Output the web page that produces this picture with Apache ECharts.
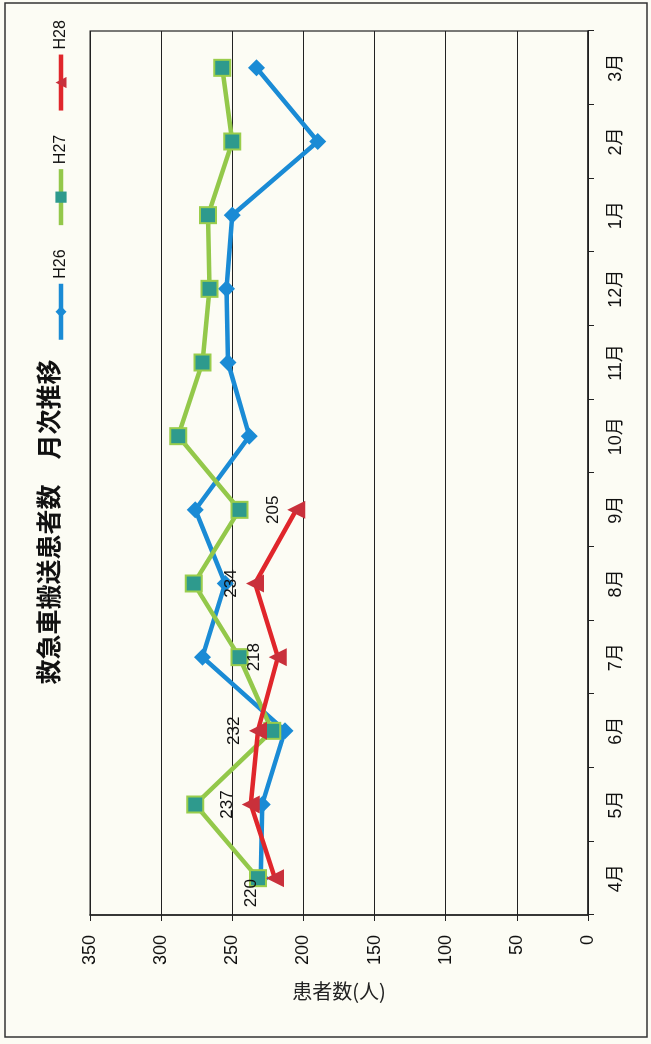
<!DOCTYPE html>
<html><head><meta charset="utf-8">
<script src="https://cdn.jsdelivr.net/npm/echarts@6/dist/echarts.min.js"></script>
<style>
html,body{margin:0;padding:0;width:651px;height:1044px;overflow:hidden;background:#fcfcf4;}
#chart{position:absolute;left:0;top:0;width:1044px;height:651px;transform-origin:0 0;transform:translateY(1044px) rotate(-90deg);}
</style></head><body><div id="chart"></div>
<script>
const months = ['4月','5月','6月','7月','8月','9月','10月','11月','12月','1月','2月','3月'];
const seriesNames = ['H26','H27','H28'];
const h26 = [230, 229, 213, 271, 255, 276, 238, 253, 254, 250, 190, 233];
const h27 = [232, 276, 222, 245, 277, 245, 288, 271, 266, 267, 250, 257];
const h28 = [220, 237, 232, 218, 234, 205];
const valueMin = 0, valueMax = 350, valueStep = 50;
const titleText = '救急車搬送患者数　月次推移';
const axisName = '患者数(人)';

const chart = echarts.init(document.getElementById('chart'), null, {renderer:'canvas'});
const lat = 'Liberation Sans, Noto Sans CJK JP, sans-serif';
chart.setOption({
  backgroundColor: '#fcfcf4',
  animation: false,
  graphic: [{type:'rect', silent:true, z:-1, shape:{x:7,y:5,width:1034,height:642}, style:{fill:'none', stroke:'#333', lineWidth:1.5}}],
  title: {text: titleText, left:'center', top:31, textStyle:{fontSize:25, fontWeight:'bold', fontFamily:'Noto Sans CJK JP', color:'#111'}},
  legend: {data: seriesNames, left:702, top:53, width:338, padding:0, itemWidth:56, itemHeight:14, itemGap:22,
    lineStyle:{width:4.5}, itemStyle:{borderWidth:0},
    textStyle:{fontSize:16, fontFamily:lat, color:'#111'}},
  grid: {left:129, right:31, top:90, bottom:63, show:true, borderColor:'#222', borderWidth:1.2},
  xAxis: {type:'category', data: months, boundaryGap:true,
    axisLine:{lineStyle:{color:'#222', width:1.5}},
    axisTick:{show:true, inside:false, length:6, lineStyle:{color:'#222'}},
    axisLabel:{fontSize:18, margin:19, color:'#111', fontFamily:lat}},
  yAxis: {type:'value', min:valueMin, max:valueMax, interval:valueStep,
    axisLine:{show:true, lineStyle:{color:'#222', width:1.5}},
    axisTick:{show:true, length:6, lineStyle:{color:'#222'}},
    splitLine:{lineStyle:{color:'#222', width:1.2}},
    axisLabel:{fontSize:18, margin:20, color:'#111', fontFamily:lat},
    name: axisName, nameLocation:'middle', nameRotate:-90, nameGap:66,
    nameTextStyle:{fontSize:20, fontFamily:'Noto Sans CJK JP', color:'#222'}},
  series: [
    {name:seriesNames[0], type:'line', data:h26, symbol:'diamond', symbolSize:17,
      lineStyle:{color:'#1a8bd5', width:4.5}, itemStyle:{color:'#1a8bd5'}},
    {name:seriesNames[1], type:'line', data:h27, symbol:'rect', symbolSize:16,
      lineStyle:{color:'#93c84a', width:4.5}, itemStyle:{color:'#2e9a8d', borderColor:'#9acd4c', borderWidth:2}},
    {name:seriesNames[2], type:'line', data:h28.map((v,i)=> i===0 ? {value:v, label:{offset:[-15,0]}} : v),
      symbol:'triangle', symbolSize:18,
      lineStyle:{color:'#e0262b', width:4.5}, itemStyle:{color:'#c9303b'},
      label:{show:true, position:'top', distance:6, fontSize:17, color:'#111', fontFamily:lat}}
  ]
});
</script></body></html>
